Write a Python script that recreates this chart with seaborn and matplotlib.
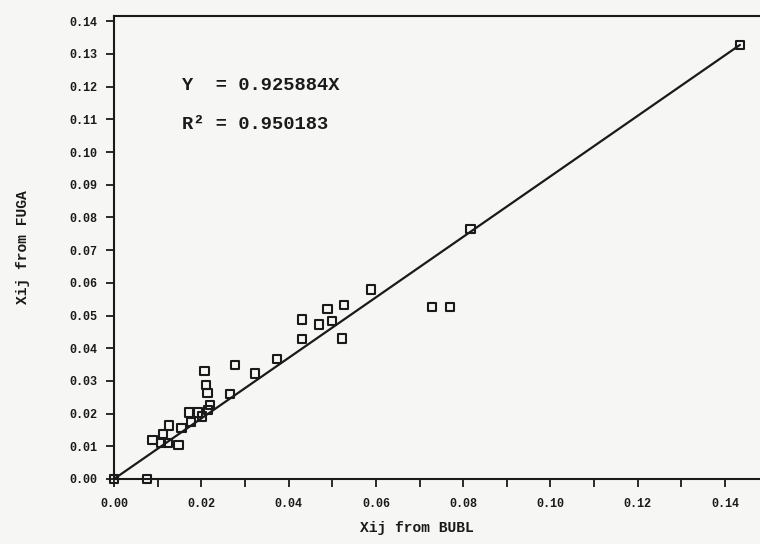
import matplotlib
matplotlib.use("Agg")
import matplotlib.pyplot as plt
import seaborn as sns
import numpy as np
import pandas as pd

# Data
x_bubl = [0.0000, 0.0076, 0.0088, 0.0108, 0.0113, 0.0124, 0.0126, 0.0148, 0.0155,
          0.0173, 0.0176, 0.0191, 0.0201, 0.0207, 0.0211, 0.0214, 0.0216, 0.0220,
          0.0266, 0.0277, 0.0323, 0.0374, 0.0430, 0.0430, 0.0470, 0.0489, 0.0499,
          0.0522, 0.0527, 0.0589, 0.0728, 0.0770, 0.0817, 0.1434]
y_fuga = [0.0000, 0.0000, 0.0119, 0.0111, 0.0138, 0.0111, 0.0164, 0.0104, 0.0155,
          0.0203, 0.0175, 0.0203, 0.0191, 0.0330, 0.0287, 0.0264, 0.0211, 0.0226,
          0.0259, 0.0349, 0.0323, 0.0367, 0.0488, 0.0428, 0.0473, 0.0520, 0.0484,
          0.0430, 0.0532, 0.0580, 0.0527, 0.0527, 0.0764, 0.1327]
slope = 0.925884
r2 = 0.950183
x_ticks = [0.00, 0.02, 0.04, 0.06, 0.08, 0.10, 0.12, 0.14]
y_ticks = [0.00, 0.01, 0.02, 0.03, 0.04, 0.05, 0.06, 0.07,
           0.08, 0.09, 0.10, 0.11, 0.12, 0.13, 0.14]

df = pd.DataFrame({"x": x_bubl, "y": y_fuga})
line_x = [0.0, max(x_bubl)]
line_df = pd.DataFrame({"x": line_x, "y": [slope * v for v in line_x]})

sns.set_style("ticks")
plt.rcParams["font.family"] = ["Liberation Mono", "DejaVu Sans Mono"]

fig = plt.figure(figsize=(7.6, 5.44), dpi=100)
bg = "#f6f6f4"
ink = "#1a1a1a"
fig.patch.set_facecolor(bg)
ax = fig.add_axes([0.15, 0.1195, 0.85, 0.851])
ax.set_facecolor(bg)

sns.lineplot(data=line_df, x="x", y="y", ax=ax, color=ink, linewidth=1.6)
sns.scatterplot(data=df, x="x", y="y", ax=ax, marker="s", s=36,
                facecolors="none", edgecolor=ink, linewidth=1.5, zorder=3,
                clip_on=False)

ax.set_xlim(0, 0.148)
ax.set_ylim(0, 0.1416)
ax.set_xticks(x_ticks)
ax.set_xticks(np.arange(0.01, 0.15, 0.02), minor=True)
ax.set_yticks(y_ticks)
ax.set_xticklabels([f"{v:.2f}" for v in x_ticks], fontsize=8.5, fontweight="bold")
ax.set_yticklabels([f"{v:.2f}" for v in y_ticks], fontsize=8.5, fontweight="bold")
ax.tick_params(axis="both", which="both", direction="out", length=6, width=1.3,
               color=ink, labelcolor=ink)
ax.tick_params(axis="x", pad=8)
ax.tick_params(axis="y", pad=6)

for s in ["left", "bottom", "top"]:
    ax.spines[s].set_linewidth(1.5)
    ax.spines[s].set_color(ink)
ax.spines["right"].set_visible(False)

ax.set_xlabel("Xij from BUBL", fontsize=10.5, fontweight="bold", color=ink)
ax.set_ylabel("Xij from FUGA", fontsize=10.5, fontweight="bold", color=ink)
ax.xaxis.set_label_coords(0.469, -0.09)
ax.yaxis.set_label_coords(-0.13, 0.5)

ax.text(0.0156, 0.1205, f"Y  = {slope:.6f}X", fontsize=13.5, fontweight="bold",
        color=ink, va="center", ha="left")
ax.text(0.0156, 0.1085, f"R\u00b2 = {r2:.6f}", fontsize=13.5, fontweight="bold",
        color=ink, va="center", ha="left")

fig.savefig("out.png", dpi=100, facecolor=bg)
